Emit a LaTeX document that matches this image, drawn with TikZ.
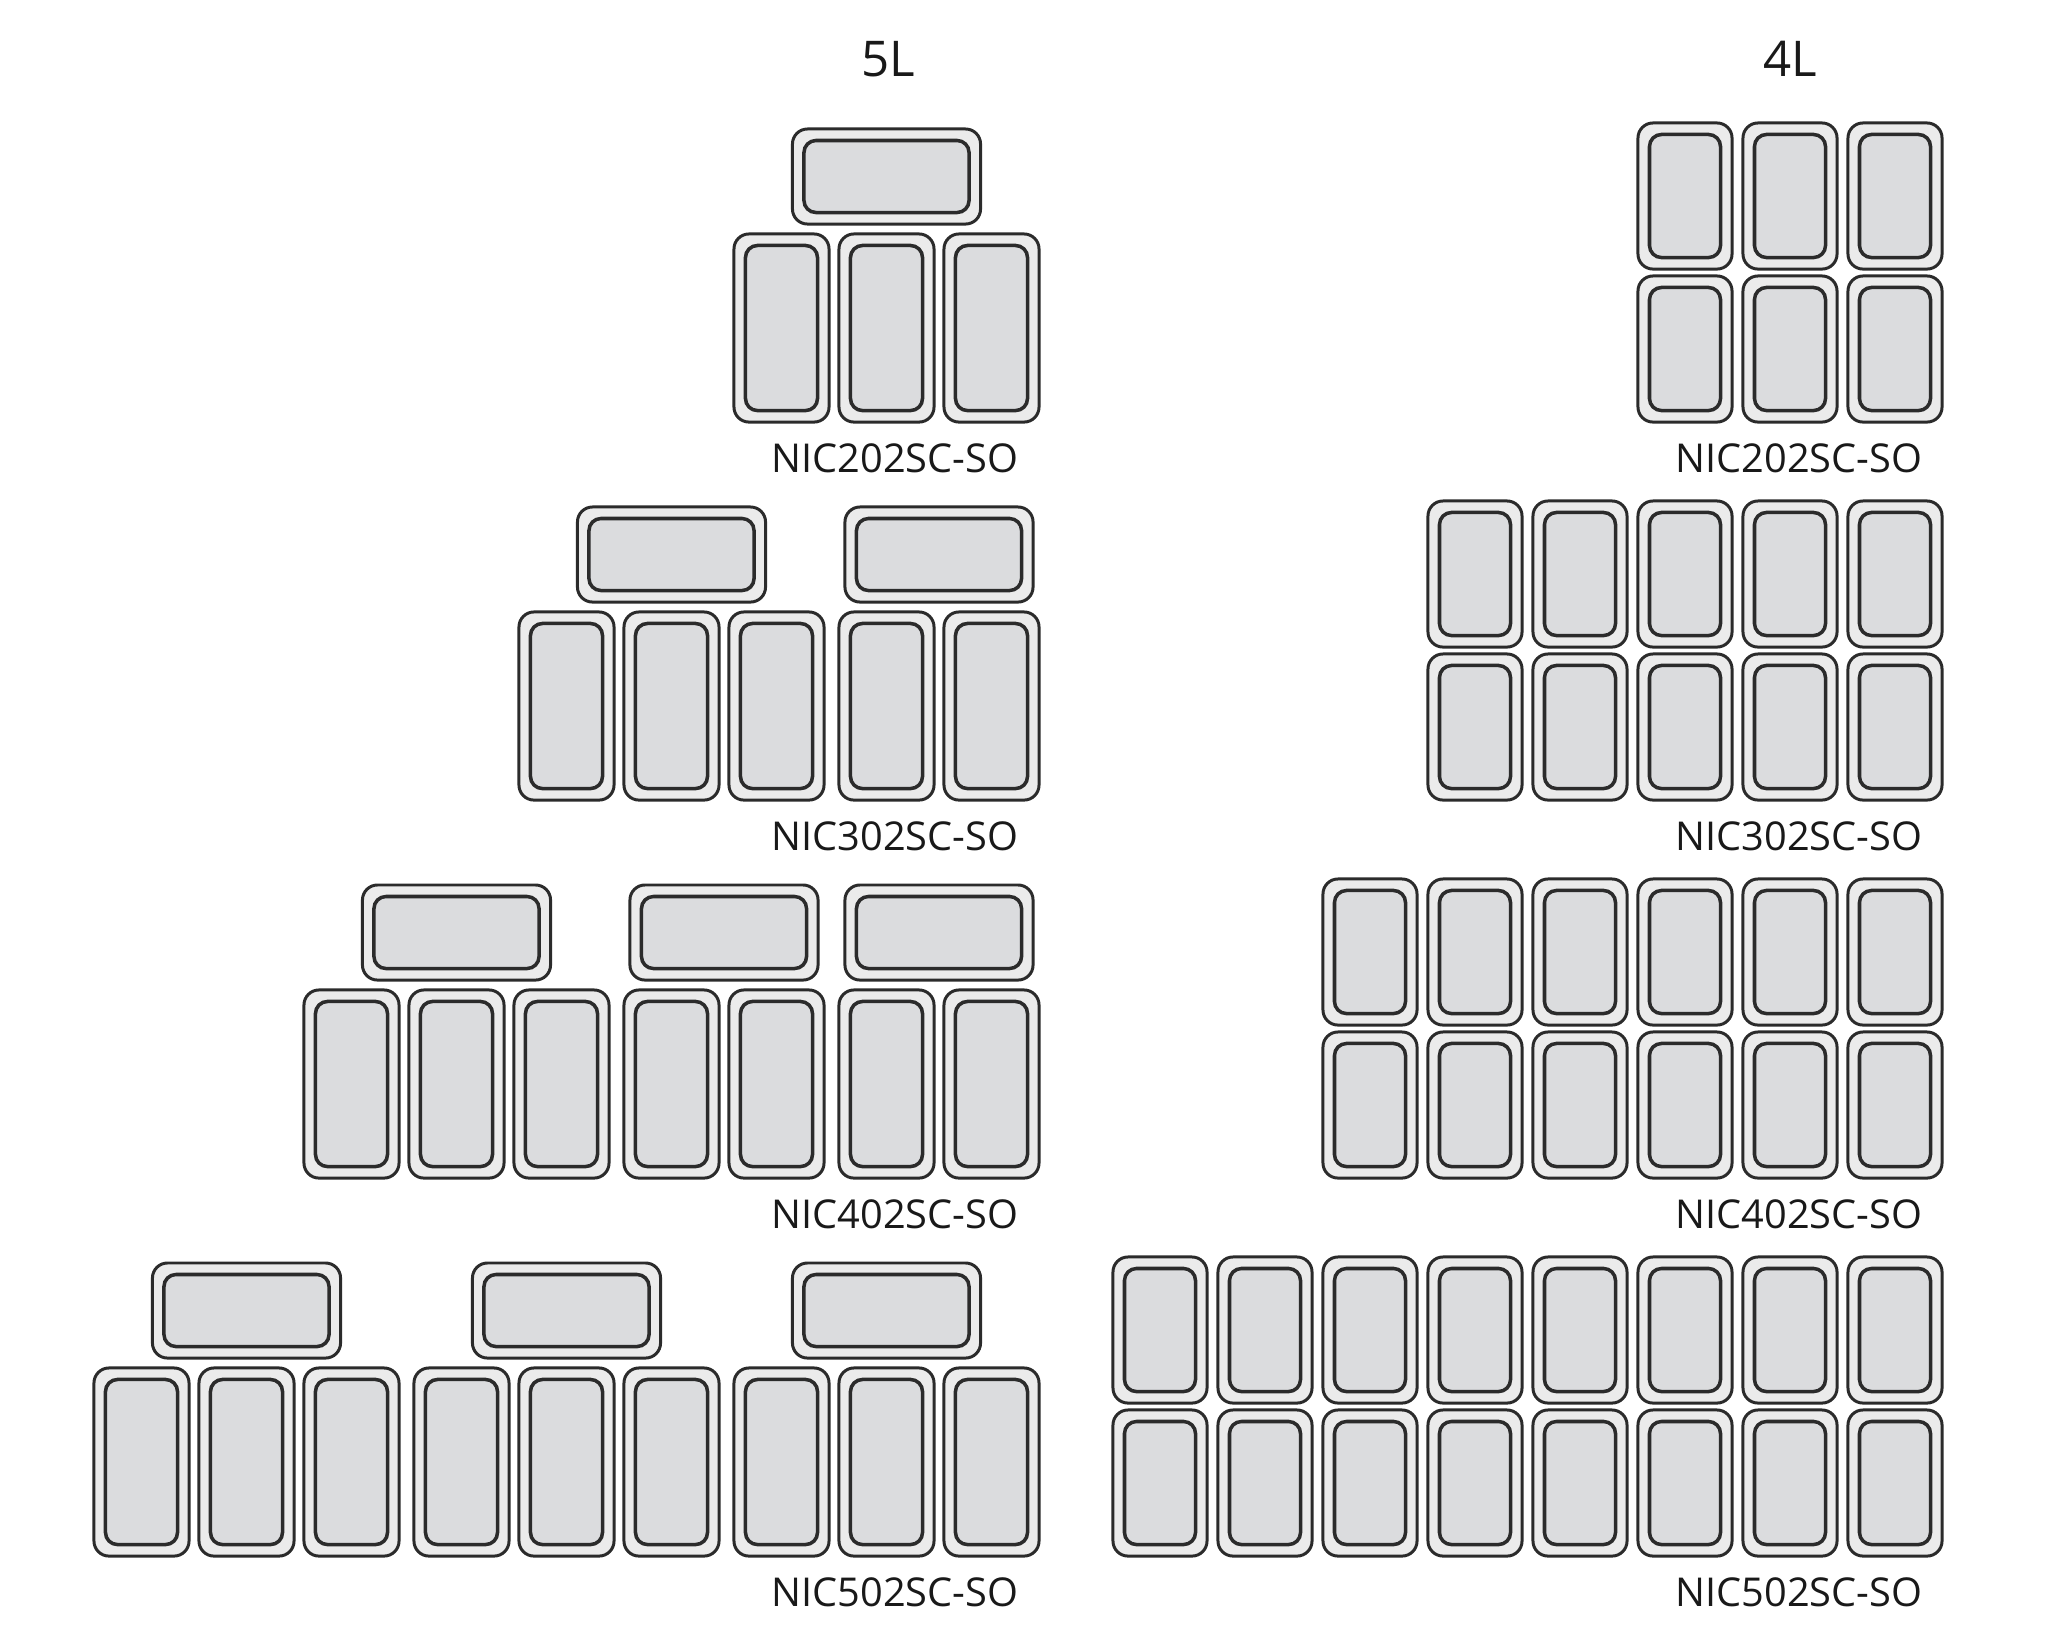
\documentclass[tikz,border=0pt]{standalone}
\usepackage{fontspec}
\setmainfont{Open Sans}
\usepackage{tikz}

\definecolor{rimgray}{HTML}{EBEBEB}
\definecolor{pangray}{HTML}{DBDCDE}
\definecolor{edgegray}{HTML}{2B2B2B}

\tikzset{
  pan/.style = {shape=rectangle, rounded corners=1.5mm, inner sep=0pt,
    draw=edgegray, line width=.85pt, fill=rimgray,
    path picture={\draw[edgegray, line width=1pt, fill=pangray, rounded corners=1.2mm]
      ([shift={(1.15mm,-1.15mm)}]path picture bounding box.north west) rectangle
      ([shift={(-1.15mm,1.15mm)}]path picture bounding box.south east);}},
  tall/.style = {pan, minimum width=0.95cm, minimum height=1.88cm},
  wide/.style = {pan, minimum width=1.88cm, minimum height=0.95cm},
  half/.style = {pan, minimum width=0.94cm, minimum height=1.46cm},
  lbl/.style = {inner sep=0pt, text=black!90, font=\fontsize{11.3}{13}\selectfont},
  head/.style = {inner sep=0pt, text=black!90, font=\fontsize{14}{16}\selectfont}
}

\begin{document}
\begin{tikzpicture}[x=0.01cm, y=-0.01cm]
  \useasboundingbox (0,0) rectangle (2048,1647);

  % column headers
  \node[head] (h5) at (888,59) {5L};
  \node[head] (h4) at (1790,59) {4L};

  % 5L: row / group / right edge / pans in group
  \foreach \r/\g/\xr/\n in {0/1/1040/3,
                            1/1/1040/2, 1/2/825/3,
                            2/1/1040/2, 2/2/825/2, 2/3/610/3,
                            3/1/1040/3, 3/2/720/3, 3/3/400/3} {
    \foreach \k in {1,...,\n}
      \node[tall] (five-\r-\g-\k) at ({\xr-48.5-105*(\k-1)}, {328+378*\r}) {};
    \node[wide] (five-\r-\g-top) at ({\xr-(105*\n-8)/2}, {176.5+378*\r}) {};
  }

  % 4L: row / columns
  \foreach \r/\n in {0/3, 1/5, 2/6, 3/8} {
    \foreach \i in {1,...,\n} {
      \node[half] (four-\r-\i-a) at ({1895-105*(\i-1)}, {196+378*\r}) {};
      \node[half] (four-\r-\i-b) at ({1895-105*(\i-1)}, {349+378*\r}) {};
    }
  }

  % model names
  \foreach \r/\m in {0/2, 1/3, 2/4, 3/5} {
    \node[lbl] (name5-\r) at (895, {458+378*\r}) {NIC\m02SC-SO};
    \node[lbl] (name4-\r) at (1799, {458+378*\r}) {NIC\m02SC-SO};
  }
\end{tikzpicture}
\end{document}
